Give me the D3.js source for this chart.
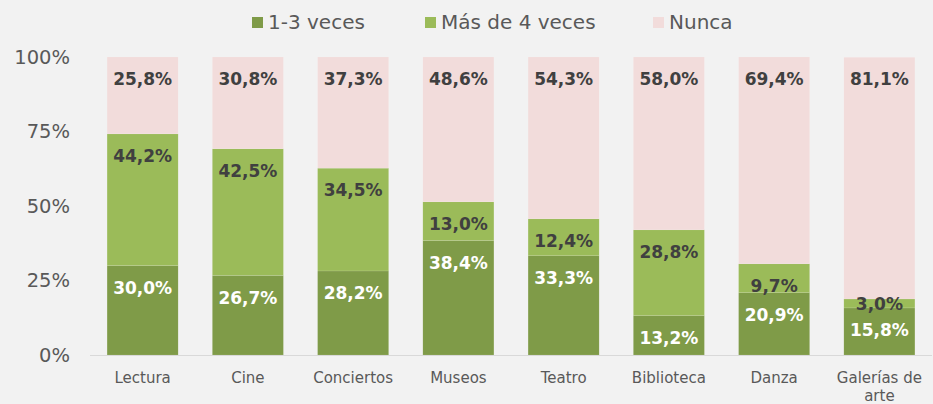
<!DOCTYPE html>
<html lang="es">
<head>
<meta charset="utf-8">
<title>Frecuencia de actividades culturales</title>
<script src="https://cdn.jsdelivr.net/npm/d3@7"></script>
<style>
  html, body { margin: 0; padding: 0; background: #f2f2f2; }
  svg { display: block; font-family: "DejaVu Sans", Verdana, sans-serif; }
</style>
</head>
<body>
<script>
// datos
var categorias = ["Lectura", "Cine", "Conciertos", "Museos", "Teatro", "Biblioteca", "Danza", "Galerías de arte"];
var series = ["1-3 veces", "Más de 4 veces", "Nunca"];
var unoATres = [30.0, 26.7, 28.2, 38.4, 33.3, 13.2, 20.9, 15.8];
var masDeCuatro = [44.2, 42.5, 34.5, 13.0, 12.4, 28.8, 9.7, 3.0];
var nunca = [25.8, 30.8, 37.3, 48.6, 54.3, 58.0, 69.4, 81.1];
var yTicks = [0, 25, 50, 75, 100];

var colores = ["#7f9b48", "#9bbb59", "#f2dcdb"];
var colorTexto = ["#ffffff", "#404040", "#404040"];

var W = 933, H = 404;
var svg = d3.select("body").append("svg")
  .attr("width", W).attr("height", H);

svg.append("rect").attr("width", W).attr("height", H).attr("fill", "#f2f2f2");

var x = d3.scaleBand().domain(categorias).range([90, 932])
  .paddingInner(0.325).paddingOuter(0.1625);
var y = d3.scaleLinear().domain([0, 100]).range([355, 57]);

var tabla = categorias.map(function(c, i) {
  return { cat: c, "1-3 veces": unoATres[i], "Más de 4 veces": masDeCuatro[i], "Nunca": nunca[i] };
});
var stack = d3.stack().keys(series)(tabla);

// eje y (solo etiquetas)
var yAxis = svg.append("g").attr("transform", "translate(70,0)")
  .call(d3.axisLeft(y).tickValues(yTicks).tickSize(0).tickPadding(0)
    .tickFormat(function(d) { return d + "%"; }));
yAxis.select(".domain").remove();
yAxis.selectAll("text").attr("font-size", 19.5).attr("fill", "#595959")
  .attr("font-family", "DejaVu Sans, Verdana, sans-serif");

// barras
var grupos = svg.selectAll("g.serie").data(stack).enter().append("g")
  .attr("class", "serie")
  .attr("fill", function(d, i) { return colores[i]; });

grupos.selectAll("rect").data(function(d) { return d; }).enter().append("rect")
  .attr("x", function(d) { return x(d.data.cat); })
  .attr("width", x.bandwidth())
  .attr("y", function(d) { return y(d[1]); })
  .attr("height", function(d) { return y(d[0]) - y(d[1]); })
  .attr("stroke", "rgba(255,255,255,0.2)")
  .attr("stroke-width", 0.5);

// etiquetas de datos
stack.forEach(function(s, si) {
  svg.append("g").selectAll("text").data(s).enter().append("text")
    .attr("x", function(d) { return x(d.data.cat) + x.bandwidth() / 2; })
    .attr("y", function(d) {
      var top = y(d[1]), h = y(d[0]) - y(d[1]);
      return top + Math.min(22, Math.max(h - 7, h / 2));
    })
    .attr("dy", "0.36em")
    .attr("text-anchor", "middle")
    .attr("font-size", 17)
    .attr("font-weight", "bold")
    .attr("fill", colorTexto[si])
    .text(function(d) { return (d[1] - d[0]).toFixed(1).replace(".", ",") + "%"; });
});

// eje x
svg.append("line").attr("x1", 90).attr("x2", 932).attr("y1", 355.5).attr("y2", 355.5)
  .attr("stroke", "#d9d9d9").attr("stroke-width", 1.2);

var xAxis = svg.append("g").attr("transform", "translate(0,355)")
  .call(d3.axisBottom(x).tickSize(0).tickPadding(0));
xAxis.select(".domain").remove();
xAxis.selectAll(".tick text").remove();
xAxis.selectAll(".tick").each(function(c) {
  var t = d3.select(this).append("text")
    .attr("fill", "#595959").attr("font-size", 15)
    .attr("text-anchor", "middle")
    .attr("font-family", "DejaVu Sans, Verdana, sans-serif");
  var lineas = c === "Galerías de arte" ? ["Galerías de", "arte"] : [c];
  lineas.forEach(function(l, k) {
    t.append("tspan").attr("x", 0).attr("y", 22.5 + k * 18.5).attr("dy", "0.36em").text(l);
  });
});

// leyenda
var legX = [252, 425, 653];
var leyenda = svg.append("g").selectAll("g").data(series).enter().append("g")
  .attr("transform", function(d, i) { return "translate(" + legX[i] + ",0)"; });
leyenda.append("rect").attr("x", 0).attr("y", 17).attr("width", 11).attr("height", 11)
  .attr("fill", function(d, i) { return colores[i]; });
leyenda.append("text").attr("x", 16).attr("y", 22).attr("dy", "0.36em")
  .attr("font-size", 20).attr("fill", "#595959")
  .text(function(d) { return d; });
</script>
</body>
</html>
